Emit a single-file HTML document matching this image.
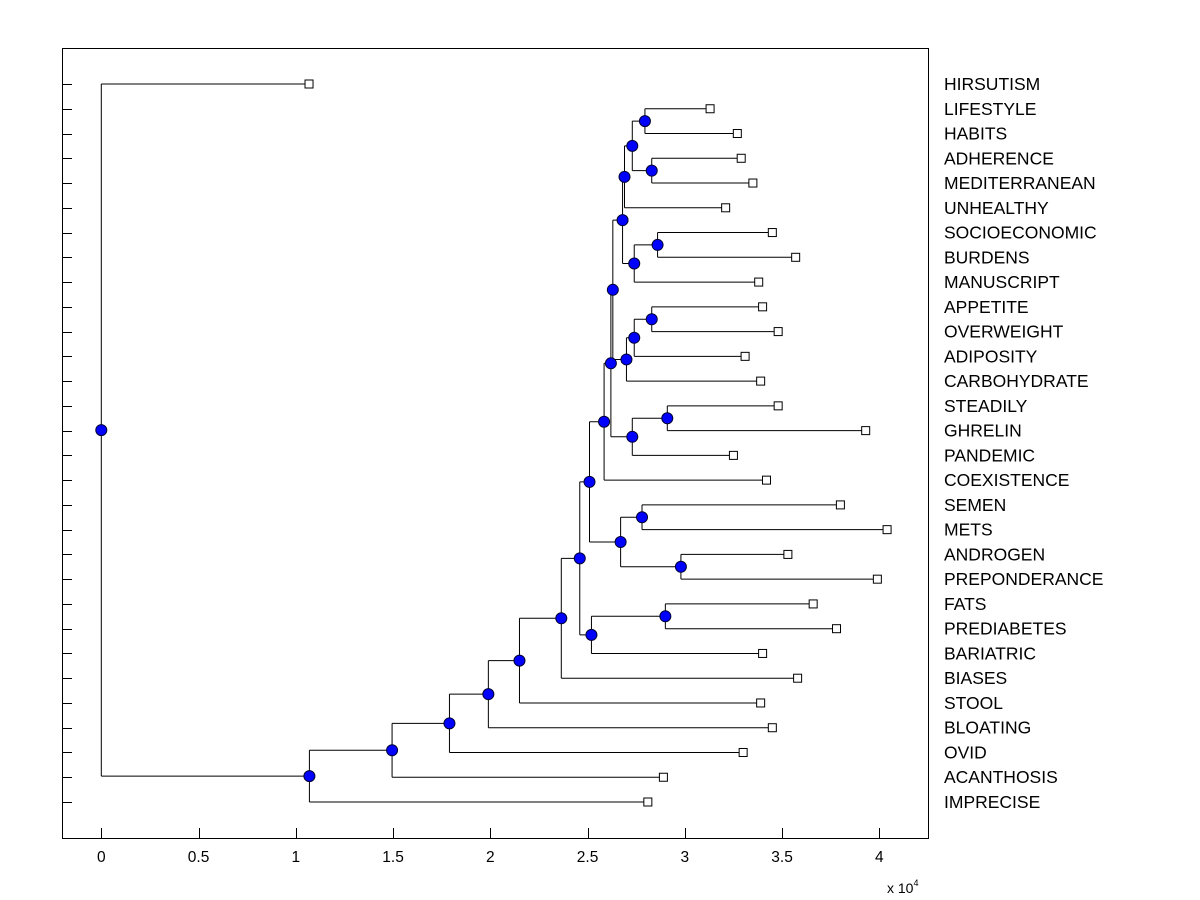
<!DOCTYPE html>
<html><head><meta charset="utf-8"><style>
body{margin:0;background:#fff;}
svg{display:block;font-family:"Liberation Sans",Arial,sans-serif;}
</style></head><body>
<svg id="chart" width="1200" height="900" xmlns="http://www.w3.org/2000/svg">
<rect x="0" y="0" width="1200" height="900" fill="#fff"/>
<rect x="62.5" y="48.5" width="866" height="790" fill="none" stroke="#000" stroke-width="1"/>
<g id="ticks"></g>
<g id="links"></g>
<g id="marks"></g>
<g id="labels"></g>
<text x="887" y="893" font-size="14">x 10<tspan font-size="9" dy="-7">4</tspan></text>
</svg>
<script>
const leafNames=["HIRSUTISM","LIFESTYLE","HABITS","ADHERENCE","MEDITERRANEAN","UNHEALTHY","SOCIOECONOMIC","BURDENS","MANUSCRIPT","APPETITE","OVERWEIGHT","ADIPOSITY","CARBOHYDRATE","STEADILY","GHRELIN","PANDEMIC","COEXISTENCE","SEMEN","METS","ANDROGEN","PREPONDERANCE","FATS","PREDIABETES","BARIATRIC","BIASES","STOOL","BLOATING","OVID","ACANTHOSIS","IMPRECISE"];
const leafValues=[1.068,3.13,3.27,3.29,3.35,3.21,3.45,3.57,3.38,3.40,3.48,3.31,3.39,3.48,3.93,3.25,3.42,3.80,4.04,3.53,3.99,3.66,3.78,3.40,3.58,3.39,3.45,3.30,2.89,2.81];
const mergeLeft=[1,3,30,32,6,34,33,9,37,38,36,13,41,40,43,17,19,45,44,21,49,48,51,52,53,54,55,56,0];
const mergeRight=[2,4,31,5,7,8,35,10,11,12,39,14,15,42,16,18,20,46,47,22,23,50,24,25,26,27,28,29,57];
const mergeHeight=[2.795,2.83,2.73,2.69,2.86,2.74,2.68,2.83,2.74,2.70,2.63,2.91,2.73,2.62,2.585,2.78,2.98,2.67,2.51,2.90,2.52,2.46,2.365,2.15,1.99,1.79,1.495,1.07,0];
const xTicks=[0,0.5,1,1.5,2,2.5,3,3.5,4];

const NS="http://www.w3.org/2000/svg";
const X=v=>101.3+v*194.5;
const Yrow=i=>84+i*(802-84)/29;
function mk(tag,attrs,parent){const e=document.createElementNS(NS,tag);for(const k in attrs)e.setAttribute(k,attrs[k]);parent.appendChild(e);return e;}
const ticks=document.getElementById('ticks'),links=document.getElementById('links'),marks=document.getElementById('marks'),labels=document.getElementById('labels');

xTicks.forEach(t=>{
  const x=Math.round(X(t))+0.5;
  const l=mk('line',{x1:x,x2:x,y1:828,y2:838,stroke:'#000'},ticks);
  
  
  const tx=mk('text',{x:X(t),y:862,'font-size':15.5,'text-anchor':'middle'},ticks);
  tx.textContent=String(t);
  
  
});
leafNames.forEach((n,i)=>{
  const y=Math.round(Yrow(i))+0.5;
  const l=mk('line',{x1:62,x2:72,y1:y,y2:y,stroke:'#000'},ticks);
  
  
  const t=mk('text',{x:944,y:Yrow(i)+6,'font-size':17.5},labels);
  t.textContent=n;
  
  
});

const N=leafNames.length;
const nx=[],ny=[];
leafValues.forEach((v,i)=>{nx[i]=X(v);ny[i]=Yrow(i);});
mergeHeight.forEach((h,k)=>{
  const a=mergeLeft[k],b=mergeRight[k];
  nx[N+k]=X(h);ny[N+k]=(ny[a]+ny[b])/2;
});
mergeHeight.forEach((h,k)=>{
  const a=mergeLeft[k],b=mergeRight[k],x=nx[N+k];
  const d=`M${x} ${ny[a]}H${nx[a]}M${x} ${ny[a]}V${ny[b]}M${x} ${ny[b]}H${nx[b]}`;
  const p=mk('path',{d:d,fill:'none',stroke:'#000','stroke-width':1},links);
  
  
});
leafValues.forEach((v,i)=>{
  const r=mk('rect',{x:nx[i]-4,y:ny[i]-4,width:8,height:8,fill:'#fff',stroke:'#000','stroke-width':1},marks);
  
  
});
mergeHeight.forEach((h,k)=>{
  const c=mk('circle',{cx:nx[N+k],cy:ny[N+k],r:5.5,fill:'#0000ff',stroke:'#000033','stroke-width':1},marks);
  
  
});
</script>
</body></html>
